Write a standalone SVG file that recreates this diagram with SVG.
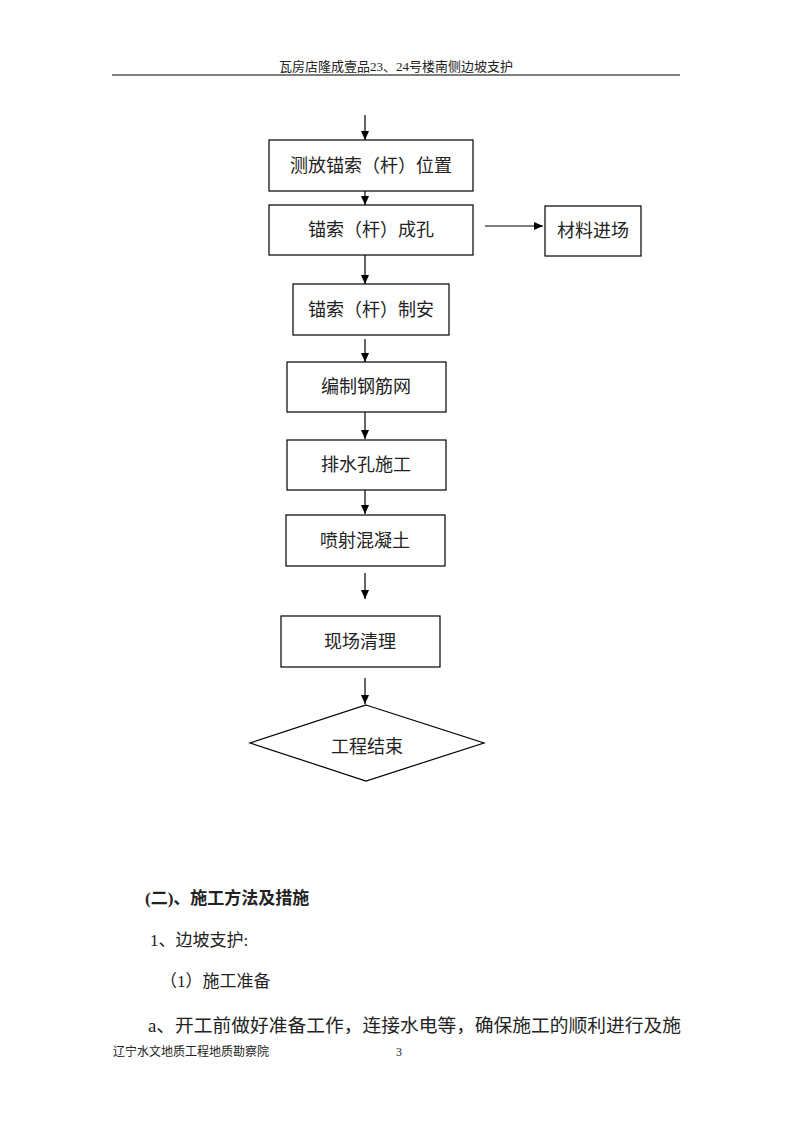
<svg xmlns="http://www.w3.org/2000/svg" width="793" height="1122" viewBox="0 0 793 1122">
<style>
.bg{fill:#fff}
.box{fill:#fff;stroke:#000;stroke-width:1.2}
.t{font-family:"Liberation Serif","Noto Sans CJK SC",serif;font-size:18px;fill:#222;text-anchor:middle}
.c{stroke:#000;stroke-width:1.2;fill:none}
.h{font-family:"Liberation Serif","Noto Sans CJK SC",serif;fill:#222}
</style>
<defs>
<marker id="ah" markerWidth="10" markerHeight="10" refX="9" refY="4" orient="auto" markerUnits="userSpaceOnUse">
<path d="M0,0 L9,4 L0,8 Z" fill="#000"/>
</marker>
</defs>
<rect class="bg" x="0" y="0" width="793" height="1122"/>
<g id="header">
<text class="h" x="396" y="71" font-size="13" text-anchor="middle">瓦房店隆成壹品23、24号楼南侧边坡支护</text>
<line x1="112" y1="75" x2="680" y2="75" stroke="#000" stroke-width="1.2"/>
</g>
<g id="connectors">
<line class="c" x1="365" y1="115" x2="365" y2="140" marker-end="url(#ah)"/>
<line class="c" x1="365" y1="191" x2="365" y2="205" marker-end="url(#ah)"/>
<line class="c" x1="485" y1="226" x2="543" y2="226" marker-end="url(#ah)"/>
<line class="c" x1="365" y1="255" x2="365" y2="284" marker-end="url(#ah)"/>
<line class="c" x1="365" y1="339" x2="365" y2="362" marker-end="url(#ah)"/>
<line class="c" x1="365" y1="412" x2="365" y2="439" marker-end="url(#ah)"/>
<line class="c" x1="365" y1="490" x2="365" y2="514" marker-end="url(#ah)"/>
<line class="c" x1="365" y1="573" x2="365" y2="599" marker-end="url(#ah)"/>
<line class="c" x1="365" y1="678" x2="365" y2="704" marker-end="url(#ah)"/>
</g>
<g id="n1"><rect class="box" x="269" y="140" width="204" height="51"/><text class="t" x="371" y="172">测放锚索（杆）位置</text></g>
<g id="n2"><rect class="box" x="269" y="205" width="204" height="50"/><text class="t" x="371" y="236">锚索（杆）成孔</text></g>
<g id="n3"><rect class="box" x="545" y="206" width="96" height="50"/><text class="t" x="593" y="237">材料进场</text></g>
<g id="n4"><rect class="box" x="293" y="284" width="156" height="51"/><text class="t" x="371" y="316">锚索（杆）制安</text></g>
<g id="n5"><rect class="box" x="287" y="362" width="159" height="50"/><text class="t" x="366" y="393">编制钢筋网</text></g>
<g id="n6"><rect class="box" x="287" y="440" width="159" height="50"/><text class="t" x="366" y="471">排水孔施工</text></g>
<g id="n7"><rect class="box" x="286" y="515" width="159" height="51"/><text class="t" x="365" y="547">喷射混凝土</text></g>
<g id="n8"><rect class="box" x="281" y="616" width="159" height="51"/><text class="t" x="360" y="648">现场清理</text></g>
<g id="n9"><polygon class="box" points="366,705 484,743 366,781 250,743"/><text class="t" x="367" y="753">工程结束</text></g>
<g id="body">
<text class="h" x="145" y="904" font-size="17" font-weight="bold">(二)、施工方法及措施</text>
<text class="h" x="150" y="946" font-size="17">1、边坡支护:</text>
<text class="h" x="160" y="987" font-size="17">（1）施工准备</text>
<text class="h" x="148" y="1032" font-size="18.5" textLength="533" lengthAdjust="spacingAndGlyphs">a、开工前做好准备工作，连接水电等，确保施工的顺利进行及施</text>
<text class="h" x="113" y="1056" font-size="12">辽宁水文地质工程地质勘察院</text>
<text class="h" x="396" y="1056" font-size="12">3</text>
</g>
</svg>
